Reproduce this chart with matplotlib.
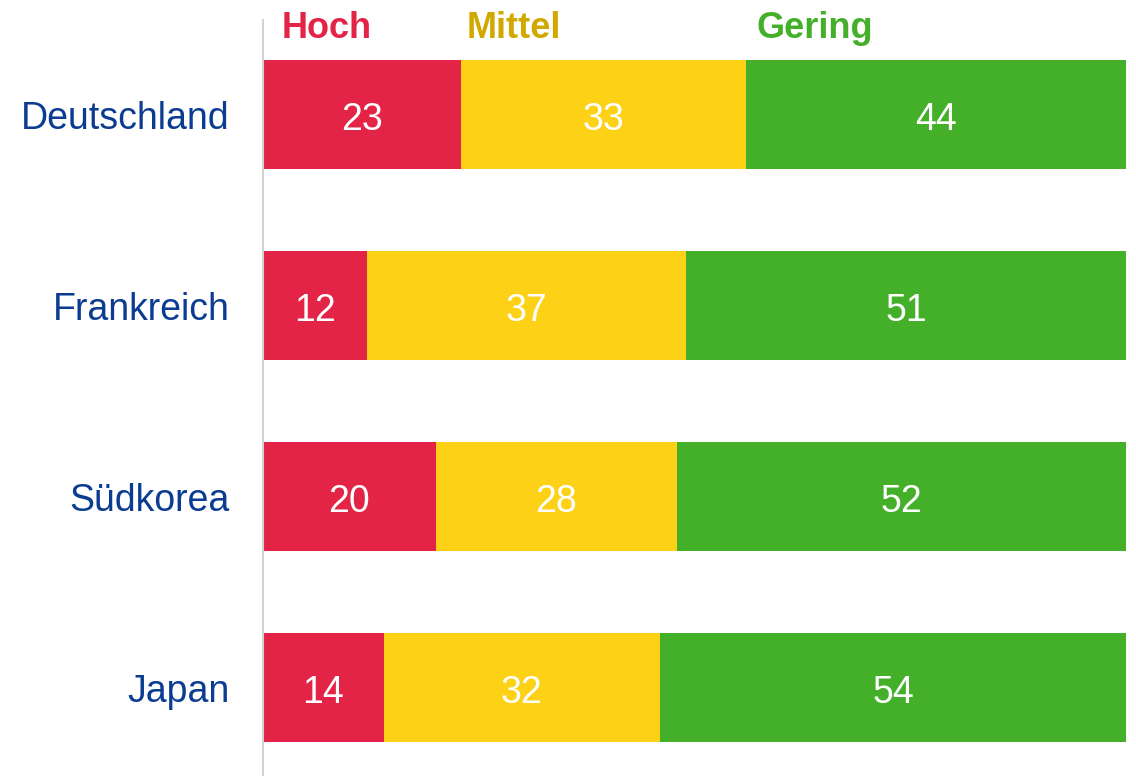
import matplotlib
matplotlib.use("Agg")
from matplotlib import pyplot as plt

plt.rcParams['font.family'] = ['Liberation Sans', 'DejaVu Sans']

laender = ['Deutschland', 'Frankreich', 'Südkorea', 'Japan']
hoch = [23, 12, 20, 14]
mittel = [33, 37, 28, 32]
gering = [44, 51, 52, 54]

stufen = ['Hoch', 'Mittel', 'Gering']
farben = ['#E32446', '#FDD116', '#44B02A']
textfarben = ['#E32446', '#D1A800', '#44B02A']


def main():
	fig = plt.figure(figsize=(11.36, 7.76), dpi=100)
	ax = fig.add_axes([263/1136, 0, (1126-263)/1136, 1-20/776])
	y = list(range(len(laender)))
	links = [0]*len(laender)
	for werte, farbe in zip([hoch, mittel, gering], farben):
		ax.barh(y, werte, left=links, height=0.57, color=farbe, linewidth=0)
		for i, w in enumerate(werte):
			ax.text(links[i]+w/2, y[i]+0.026, str(w), ha='center', va='center',
				color='white', fontsize=27)
		links = [l+w for l, w in zip(links, werte)]

	# Kopfzeile ueber dem ersten Balken
	for name, xpos, farbe in zip(stufen, [2.2, 23.6, 57.2], textfarben):
		ax.text(xpos, -0.45, name, ha='left', va='center', color=farbe,
			fontsize=26, fontweight='bold', clip_on=False)

	ax.set_xlim(0, 100)
	ax.set_ylim(3.463, -0.495)
	ax.set_yticks(y)
	ax.set_yticklabels(laender, color='#0B3C91', fontsize=27)
	ax.tick_params(axis='y', length=0, pad=24)
	ax.set_xticks([])
	for s in ['top', 'right', 'bottom']:
		ax.spines[s].set_visible(False)
	ax.spines['left'].set_color('#D3D3D3')
	ax.spines['left'].set_linewidth(1.5)
	fig.savefig('out.png', dpi=100)


if __name__ == '__main__':
	main()
